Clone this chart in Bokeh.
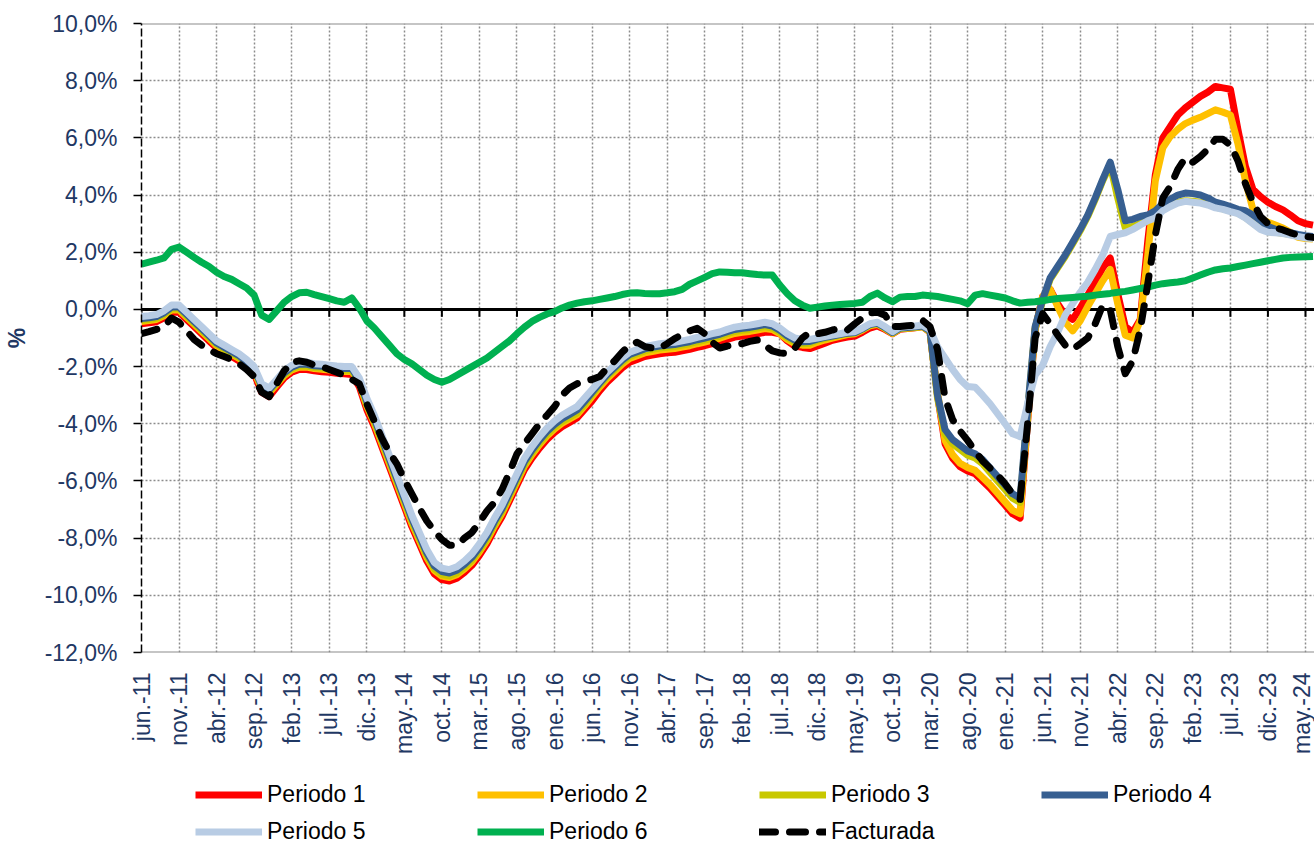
import math
from bokeh.plotting import figure
from bokeh.layouts import column
from bokeh.models import (Range1d, FixedTicker, CustomJSTickFormatter, Span,
                          Legend, LegendItem)
from bokeh.embed import file_html
from bokeh.resources import INLINE

# ---------------- data (monthly, jun-11 .. jun-24) ----------------
tick_labels = ["jun.-11", "nov.-11", "abr.-12", "sep.-12", "feb.-13", "jul.-13",
               "dic.-13", "may.-14", "oct.-14", "mar.-15", "ago.-15", "ene.-16",
               "jun.-16", "nov.-16", "abr.-17", "sep.-17", "feb.-18", "jul.-18",
               "dic.-18", "may.-19", "oct.-19", "mar.-20", "ago.-20", "ene.-21",
               "jun.-21", "nov.-21", "abr.-22", "sep.-22", "feb.-23", "jul.-23",
               "dic.-23", "may.-24"]
tick_step = 5  # months between labels

y_ticks = [-12, -10, -8, -6, -4, -2, 0, 2, 4, 6, 8, 10]

periodo1 = [
    -0.5, -0.47, -0.43, -0.3, -0.1, -0.1, -0.35, -0.6, -0.85, -1.1,
    -1.35, -1.5, -1.65, -1.8, -2.0, -2.25, -2.9, -3.05, -2.72, -2.4,
    -2.2, -2.1, -2.1, -2.15, -2.18, -2.2, -2.23, -2.25, -2.28, -2.7,
    -3.5, -4.1, -4.8, -5.5, -6.2, -6.9, -7.6, -8.2, -8.8, -9.25,
    -9.45, -9.5, -9.4, -9.2, -8.95, -8.6, -8.2, -7.7, -7.25, -6.7,
    -6.15, -5.6, -5.2, -4.85, -4.55, -4.3, -4.1, -3.95, -3.8, -3.5,
    -3.2, -2.85, -2.55, -2.3, -2.05, -1.85, -1.75, -1.65, -1.6, -1.55,
    -1.52, -1.5, -1.45, -1.4, -1.33, -1.27, -1.2, -1.14, -1.05, -0.97,
    -0.93, -0.9, -0.85, -0.8, -0.8, -0.85, -1.1, -1.28, -1.33, -1.37,
    -1.28, -1.18, -1.08, -1.02, -0.97, -0.93, -0.8, -0.65, -0.58, -0.7,
    -0.85, -0.69, -0.67, -0.64, -0.6, -0.8, -3.0, -4.7, -5.2, -5.5,
    -5.65, -5.75, -6.0, -6.25, -6.55, -6.85, -7.15, -7.3, -3.9, -0.7,
    0.45, 0.7, 0.2, -0.2, -0.35, 0.05, 0.5, 0.95, 1.45, 1.8,
    0.55, -0.6, -0.8, -0.35, 2.4, 4.7, 6.0, 6.4, 6.8, 7.05,
    7.25, 7.45, 7.6, 7.8, 7.75, 7.7, 6.3, 5.0, 4.2, 3.95,
    3.75, 3.6, 3.48, 3.3, 3.1, 3.0, 2.95]

periodo2 = [
    -0.42, -0.39, -0.35, -0.22, -0.02, -0.02, -0.27, -0.52, -0.77, -1.02,
    -1.27, -1.42, -1.57, -1.72, -1.92, -2.17, -2.77, -2.92, -2.62, -2.32,
    -2.12, -2.02, -2.02, -2.07, -2.09, -2.12, -2.15, -2.17, -2.17, -2.57,
    -3.38, -3.98, -4.68, -5.38, -6.08, -6.78, -7.48, -8.08, -8.68, -9.13,
    -9.33, -9.38, -9.28, -9.08, -8.83, -8.48, -8.08, -7.58, -7.13, -6.58,
    -6.03, -5.48, -5.08, -4.73, -4.43, -4.18, -3.98, -3.83, -3.68, -3.38,
    -3.05, -2.72, -2.42, -2.17, -1.92, -1.72, -1.62, -1.52, -1.47, -1.42,
    -1.39, -1.37, -1.32, -1.27, -1.2, -1.14, -1.07, -1.01, -0.92, -0.84,
    -0.8, -0.77, -0.72, -0.67, -0.7, -0.85, -1.05, -1.2, -1.25, -1.25,
    -1.15, -1.07, -1.0, -0.94, -0.88, -0.85, -0.72, -0.57, -0.52, -0.67,
    -0.84, -0.68, -0.66, -0.63, -0.6, -0.79, -2.9, -4.58, -5.08, -5.38,
    -5.53, -5.63, -5.88, -6.13, -6.43, -6.73, -7.03, -7.15, -3.85, -0.7,
    0.45, 0.7, 0.1, -0.45, -0.75, -0.4, 0.1, 0.55, 1.0, 1.4,
    0.2, -0.9, -1.0, -0.4, 1.9, 4.5, 5.65, 6.05, 6.3, 6.5,
    6.62, 6.72, 6.85, 6.98, 6.9, 6.8, 5.8, 4.5, 3.5, 3.2,
    3.05, 2.95, 2.85, 2.7, 2.52, 2.48, 2.46]

periodo3 = [
    -0.38, -0.35, -0.31, -0.18, 0.02, 0.02, -0.23, -0.48, -0.73, -0.98,
    -1.23, -1.38, -1.53, -1.68, -1.88, -2.13, -2.73, -2.88, -2.58, -2.28,
    -2.08, -1.98, -1.98, -2.03, -2.05, -2.08, -2.11, -2.13, -2.13, -2.53,
    -3.32, -3.92, -4.62, -5.32, -6.02, -6.72, -7.42, -8.02, -8.62, -9.07,
    -9.27, -9.32, -9.22, -9.02, -8.77, -8.42, -8.02, -7.52, -7.07, -6.52,
    -5.97, -5.42, -5.02, -4.67, -4.37, -4.12, -3.92, -3.77, -3.62, -3.32,
    -2.97, -2.65, -2.35, -2.1, -1.85, -1.65, -1.55, -1.45, -1.4, -1.35,
    -1.32, -1.3, -1.25, -1.2, -1.13, -1.07, -1.0, -0.94, -0.85, -0.77,
    -0.73, -0.7, -0.65, -0.6, -0.65, -0.8, -1.0, -1.15, -1.2, -1.18,
    -1.08, -1.01, -0.96, -0.9, -0.85, -0.83, -0.7, -0.55, -0.5, -0.65,
    -0.83, -0.67, -0.65, -0.63, -0.6, -0.77, -3.1, -4.35, -4.7, -4.9,
    -5.1, -5.2, -5.4, -5.7, -6.0, -6.3, -6.6, -6.75, -3.6, -0.65,
    0.3, 1.05, 1.45, 1.85, 2.3, 2.75, 3.25, 3.85, 4.5, 5.05,
    3.9, 2.85, 2.9, 3.0, 3.1, 3.25, 3.5, 3.65, 3.75, 3.8,
    3.78, 3.75, 3.68, 3.58, 3.52, 3.45, 3.37, 3.22, 3.02, 2.83,
    2.72, 2.7, 2.66, 2.62, 2.57, 2.52, 2.5]

periodo4 = [
    -0.32, -0.29, -0.25, -0.12, 0.08, 0.08, -0.17, -0.42, -0.67, -0.92,
    -1.17, -1.32, -1.47, -1.62, -1.82, -2.07, -2.67, -2.82, -2.52, -2.22,
    -2.02, -1.92, -1.92, -1.97, -1.99, -2.02, -2.05, -2.07, -2.07, -2.47,
    -3.22, -3.82, -4.52, -5.22, -5.92, -6.62, -7.32, -7.92, -8.52, -8.97,
    -9.17, -9.22, -9.12, -8.92, -8.67, -8.32, -7.92, -7.42, -6.97, -6.42,
    -5.87, -5.32, -4.92, -4.57, -4.27, -4.02, -3.82, -3.67, -3.52, -3.22,
    -2.9, -2.58, -2.28, -2.03, -1.78, -1.58, -1.48, -1.38, -1.33, -1.28,
    -1.25, -1.23, -1.18, -1.13, -1.06, -1.0, -0.93, -0.87, -0.78, -0.7,
    -0.66, -0.63, -0.58, -0.53, -0.58, -0.73, -0.93, -1.08, -1.13, -1.12,
    -1.04, -0.98, -0.93, -0.88, -0.83, -0.81, -0.68, -0.53, -0.48, -0.63,
    -0.81, -0.65, -0.63, -0.61, -0.58, -0.75, -3.0, -4.2, -4.55, -4.75,
    -4.95, -5.05, -5.25, -5.55, -5.85, -6.15, -6.45, -6.6, -3.5, -0.6,
    0.35, 1.1, 1.5, 1.9, 2.35, 2.8, 3.3, 3.9, 4.55, 5.15,
    4.2, 3.1, 3.15, 3.25, 3.3, 3.45, 3.7, 3.85, 4.0, 4.07,
    4.05, 4.0, 3.9, 3.75, 3.68, 3.6, 3.5, 3.45, 3.3, 3.1,
    2.9, 2.8, 2.72, 2.68, 2.62, 2.58, 2.55]

periodo5 = [
    -0.25, -0.22, -0.18, -0.05, 0.15, 0.15, -0.1, -0.35, -0.6, -0.85,
    -1.1, -1.25, -1.4, -1.55, -1.75, -2.0, -2.6, -2.75, -2.45, -2.15,
    -1.95, -1.85, -1.85, -1.9, -1.92, -1.95, -1.98, -2.0, -2.0, -2.4,
    -3.1, -3.7, -4.4, -5.1, -5.8, -6.5, -7.2, -7.8, -8.4, -8.85,
    -9.05, -9.1, -9.0, -8.8, -8.55, -8.2, -7.8, -7.3, -6.85, -6.3,
    -5.75, -5.2, -4.8, -4.45, -4.15, -3.9, -3.7, -3.55, -3.4, -3.1,
    -2.8, -2.5, -2.2, -1.95, -1.7, -1.5, -1.4, -1.3, -1.25, -1.2,
    -1.17, -1.15, -1.1, -1.05, -0.98, -0.92, -0.85, -0.79, -0.7, -0.62,
    -0.58, -0.55, -0.5, -0.45, -0.5, -0.65, -0.85, -1.0, -1.05, -1.05,
    -1.0, -0.95, -0.9, -0.85, -0.8, -0.78, -0.65, -0.5, -0.45, -0.6,
    -0.78, -0.62, -0.6, -0.58, -0.55, -0.7, -1.3, -1.7, -2.1, -2.45,
    -2.7, -2.72, -3.0, -3.3, -3.65, -4.0, -4.35, -4.45, -3.3, -2.3,
    -1.95, -1.3, -0.8, -0.2, 0.2, 0.6, 0.95, 1.4, 1.9, 2.55,
    2.62, 2.68, 2.8, 2.95, 3.1, 3.2, 3.45, 3.6, 3.72, 3.78,
    3.75, 3.72, 3.65, 3.55, 3.5, 3.42, 3.35, 3.2, 3.0, 2.8,
    2.7, 2.68, 2.65, 2.6, 2.55, 2.5, 2.48]

periodo6 = [
    1.58, 1.65, 1.72, 1.8, 2.1, 2.18, 2.0, 1.82, 1.65, 1.5,
    1.3, 1.15, 1.05, 0.9, 0.75, 0.5, -0.2, -0.35, -0.05, 0.25,
    0.45, 0.58, 0.6, 0.52, 0.45, 0.38, 0.3, 0.25, 0.4, 0.05,
    -0.4, -0.65, -0.95, -1.25, -1.55, -1.75, -1.9, -2.1, -2.3, -2.45,
    -2.55, -2.45, -2.3, -2.15, -2.0, -1.85, -1.7, -1.5, -1.3, -1.1,
    -0.85, -0.62, -0.42, -0.28, -0.16, -0.08, 0.05, 0.15, 0.22, 0.27,
    0.3, 0.35, 0.4, 0.45, 0.52, 0.57, 0.58, 0.56, 0.55, 0.55,
    0.58, 0.62, 0.7, 0.88, 1.0, 1.12, 1.25, 1.31, 1.3, 1.28,
    1.28, 1.25, 1.22, 1.2, 1.2, 0.85, 0.55, 0.3, 0.15, 0.04,
    0.08, 0.12, 0.15, 0.17, 0.19, 0.21, 0.25, 0.45, 0.57, 0.4,
    0.27, 0.43, 0.45, 0.45, 0.5, 0.48, 0.45, 0.4, 0.35, 0.3,
    0.2, 0.5, 0.55, 0.5, 0.45, 0.4, 0.3, 0.22, 0.25, 0.27,
    0.3, 0.35, 0.38, 0.4, 0.42, 0.44, 0.46, 0.5, 0.53, 0.56,
    0.6, 0.63, 0.68, 0.73, 0.78, 0.85, 0.9, 0.93, 0.96, 1.0,
    1.1, 1.2, 1.3, 1.38, 1.42, 1.45, 1.5, 1.55, 1.6, 1.65,
    1.7, 1.75, 1.8, 1.82, 1.83, 1.84, 1.85]

facturada = [
    -0.85, -0.78, -0.7, -0.6, -0.3, -0.45, -0.75, -1.05, -1.25, -1.4,
    -1.55, -1.65, -1.75, -1.9, -2.1, -2.35, -2.9, -3.05, -2.6, -2.15,
    -1.85, -1.8, -1.85, -1.95, -2.0, -2.1, -2.2, -2.3, -2.45, -2.6,
    -3.3, -3.9, -4.5, -5.0, -5.4, -5.95, -6.45, -6.95, -7.4, -7.75,
    -8.05, -8.25, -8.25, -8.0, -7.8, -7.45, -7.05, -6.75, -6.3, -5.7,
    -5.05, -4.7, -4.35, -4.0, -3.7, -3.4, -3.0, -2.75, -2.6, -2.5,
    -2.45, -2.35, -2.05, -1.8, -1.5, -1.25, -1.15, -1.3, -1.35, -1.36,
    -1.2, -1.02, -0.88, -0.75, -0.66, -0.85, -1.15, -1.35, -1.28, -1.24,
    -1.2, -1.12, -1.07, -1.25, -1.45, -1.52, -1.54, -1.35, -1.0, -0.8,
    -0.85, -0.8, -0.72, -0.66, -0.72, -0.5, -0.3, -0.12, -0.1, -0.2,
    -0.6, -0.6, -0.57, -0.55, -0.38, -0.6, -1.4, -3.1, -3.85, -4.25,
    -4.58, -4.95, -5.3, -5.55, -5.8, -6.1, -6.45, -6.65, -4.0, -1.0,
    -0.15, -0.5, -0.9, -1.25, -1.4, -1.2, -1.0, -0.5, 0.15, 0.0,
    -1.3, -2.25, -1.8, -0.7, 0.9, 2.6, 3.9, 4.3, 4.9, 5.3,
    5.15, 5.35, 5.6, 5.95, 5.95, 5.75, 5.2, 4.4, 3.75, 3.25,
    3.0, 2.85, 2.78, 2.68, 2.6, 2.55, 2.52]

series = [
    ("Periodo 1", periodo1, "#ff0000", None),
    ("Periodo 2", periodo2, "#ffc000", None),
    ("Periodo 3", periodo3, "#c8c800", None),
    ("Periodo 4", periodo4, "#375f91", None),
    ("Periodo 5", periodo5, "#b8cce4", None),
    ("Periodo 6", periodo6, "#00b050", None),
    ("Facturada", facturada, "#000000", "16 14"),
]

# ---------------- main figure ----------------
FONT = "Liberation Sans"
NAVY = "#1f3864"
LW = 7

tick_pos = [i * tick_step for i in range(len(tick_labels))]
x = list(range(len(periodo1)))

p = figure(width=1314, height=760, output_backend="svg", toolbar_location=None,
           x_range=Range1d(0, 156.2), y_range=Range1d(y_ticks[0], y_ticks[-1]),
           min_border_left=141, min_border_right=0, min_border_top=23,
           min_border_bottom=108)
p.background_fill_color = "white"
p.border_fill_color = "white"
p.outline_line_color = None

# y axis
p.yaxis.ticker = FixedTicker(ticks=y_ticks)
p.yaxis.formatter = CustomJSTickFormatter(
    code="return tick.toFixed(1).replace('.', ',') + '%';")
p.yaxis.major_label_text_font = FONT
p.yaxis.major_label_text_font_size = "23px"
p.yaxis.major_label_text_color = NAVY
p.yaxis.major_label_standoff = 16
p.yaxis.axis_line_color = "black"
p.yaxis.axis_line_width = 1.5
p.yaxis.axis_line_dash = "8 3"
p.yaxis.major_tick_in = 0
p.yaxis.major_tick_out = 8
p.yaxis.major_tick_line_color = "black"
p.yaxis.major_tick_line_width = 1.5
p.yaxis.minor_tick_line_color = None
p.yaxis.axis_label = "%"
p.yaxis.axis_label_text_font = FONT
p.yaxis.axis_label_text_font_size = "23px"
p.yaxis.axis_label_text_font_style = "bold"
p.yaxis.axis_label_text_color = NAVY
p.yaxis.axis_label_standoff = 12

# x axis (labels at the bottom, axis line drawn at zero)
p.xaxis.ticker = FixedTicker(ticks=tick_pos)
p.xaxis.major_label_overrides = {tp: lab for tp, lab in zip(tick_pos, tick_labels)}
p.xaxis.major_label_orientation = math.pi / 2
p.xaxis.major_label_text_font = FONT
p.xaxis.major_label_text_font_size = "23px"
p.xaxis.major_label_text_color = NAVY
p.xaxis.major_label_standoff = 14
p.xaxis.axis_line_color = None
p.xaxis.major_tick_line_color = None
p.xaxis.minor_tick_line_color = None

# grids
for g in (p.xgrid, p.ygrid):
    g.grid_line_color = "#8c8c8c"
    g.grid_line_dash = "2 2"
    g.grid_line_width = 1.5

# plot-area top and bottom borders
for loc in (y_ticks[0], y_ticks[-1]):
    p.add_layout(Span(location=loc, dimension="width", line_color="#8c8c8c",
                      line_width=2, level="underlay"))

# zero axis line with tick marks
p.add_layout(Span(location=0, dimension="width", line_color="black",
                  line_width=3, level="underlay"))
p.segment(x0=tick_pos, y0=[0] * len(tick_pos), x1=tick_pos,
          y1=[-0.26] * len(tick_pos), line_color="black", line_width=2)

for name, vals, col, dash in series:
    kw = dict(line_color=col, line_width=LW, line_join="round")
    if dash:
        kw.update(line_dash=dash, line_cap="round")
    p.line(x, vals, **kw)

# ---------------- legend strip (frame aligned with the chart's frame) ----------------
lg = figure(width=1314, height=88, output_backend="svg", toolbar_location=None,
            x_range=Range1d(0, 1), y_range=Range1d(100, 101),
            x_axis_type=None, y_axis_type=None,
            min_border_left=0, min_border_right=0, min_border_top=0,
            min_border_bottom=0)
lg.outline_line_color = None
lg.background_fill_color = "white"
lg.border_fill_color = "white"

items = []
for name, vals, col, dash in series:
    kw = dict(line_color=col, line_width=LW, line_join="round")
    if dash:
        kw.update(line_dash=dash, line_cap="round")
    # same series; lies outside this strip's y range, only its legend swatch shows
    r = lg.line(x, vals, **kw)
    items.append(LegendItem(label=name, renderers=[r]))

legend = Legend(items=items, location=(54, 3), orientation="horizontal", ncols=4,
                glyph_width=67, glyph_height=27, label_height=27, label_width=200,
                label_standoff=5, spacing=10, padding=0, margin=0,
                border_line_color=None, background_fill_alpha=0,
                label_text_font=FONT, label_text_font_size="23px",
                label_text_color="black")
lg.add_layout(legend, "center")

layout = column(p, lg, spacing=0)
open("out.html", "w").write(file_html(layout, INLINE))
